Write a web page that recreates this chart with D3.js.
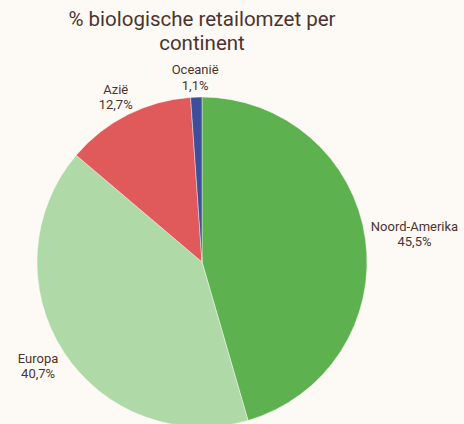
<!DOCTYPE html>
<html><head><meta charset="utf-8">
<script src="https://cdn.jsdelivr.net/npm/d3@7"></script>
<style>
html,body{margin:0;padding:0;background:#fdf9f5;}
svg{display:block;}
</style></head>
<body>
<script>
const categories = ["Noord-Amerika", "Europa", "Azië", "Oceanië"];
const values = [45.5, 40.7, 12.7, 1.1];
const valueLabels = ["45,5%", "40,7%", "12,7%", "1,1%"];
const colors = ["#5db24f", "#b0d9a8", "#e05a5b", "#3f4e9b"];
const titleLines = ["% biologische retailomzet per", "continent"];

const W = 464, H = 424;
const cx = 202, cy = 262, R = 165;
const textColor = "#4b3430";
const titleFont = "Roboto, sans-serif";
const labelFont = "Roboto, sans-serif";

const svg = d3.select("body").append("svg").attr("width", W).attr("height", H);
svg.append("rect").attr("width", W).attr("height", H).attr("fill", "#fdf9f5");

svg.selectAll("text.title").data(titleLines).join("text").attr("class", "title")
  .attr("x", cx).attr("y", (d, i) => 26 + i * 24.2).attr("text-anchor", "middle")
  .attr("font-family", titleFont).attr("font-size", 20.5).attr("fill", textColor)
  .text(d => d);

const data = categories.map((c, i) => ({name: c, value: values[i], label: valueLabels[i], color: colors[i]}));
const pie = d3.pie().value(d => d.value).sort(null);
const arcs = pie(data);
const arc = d3.arc().innerRadius(0).outerRadius(R);

const g = svg.append("g").attr("transform", `translate(${cx},${cy})`);
g.selectAll("path").data(arcs).join("path")
  .attr("d", arc).attr("fill", d => d.data.color)
  .attr("stroke", "#ffffff").attr("stroke-opacity", 0.5).attr("stroke-width", 0.8);

const lh = 15.4, fs = 13;
const lbl = g.selectAll("g.lbl").data(arcs).join("g").attr("class", "lbl");
lbl.each(function(d) {
  const a = (d.startAngle + d.endAngle) / 2;
  const r = R + 6;
  const el = d3.select(this);
  const lines = [d.data.name, d.data.label];
  const texts = el.selectAll("text").data(lines).join("text")
    .attr("font-family", labelFont).attr("font-size", fs).attr("fill", textColor)
    .attr("text-anchor", "middle").text(t => t);
  const bw = d3.max(texts.nodes(), n => n.getComputedTextLength());
  const s = Math.sin(a), c = Math.cos(a);
  const x = r * s + s * bw / 2 * (s < 0 ? 1.2 : 1);
  const yc = -r * c - (c < 0 ? 25 : 11) * c + 2;
  texts.attr("x", x).attr("y", (t, i) => yc - lh / 2 + i * lh);
});
</script>
</body></html>
